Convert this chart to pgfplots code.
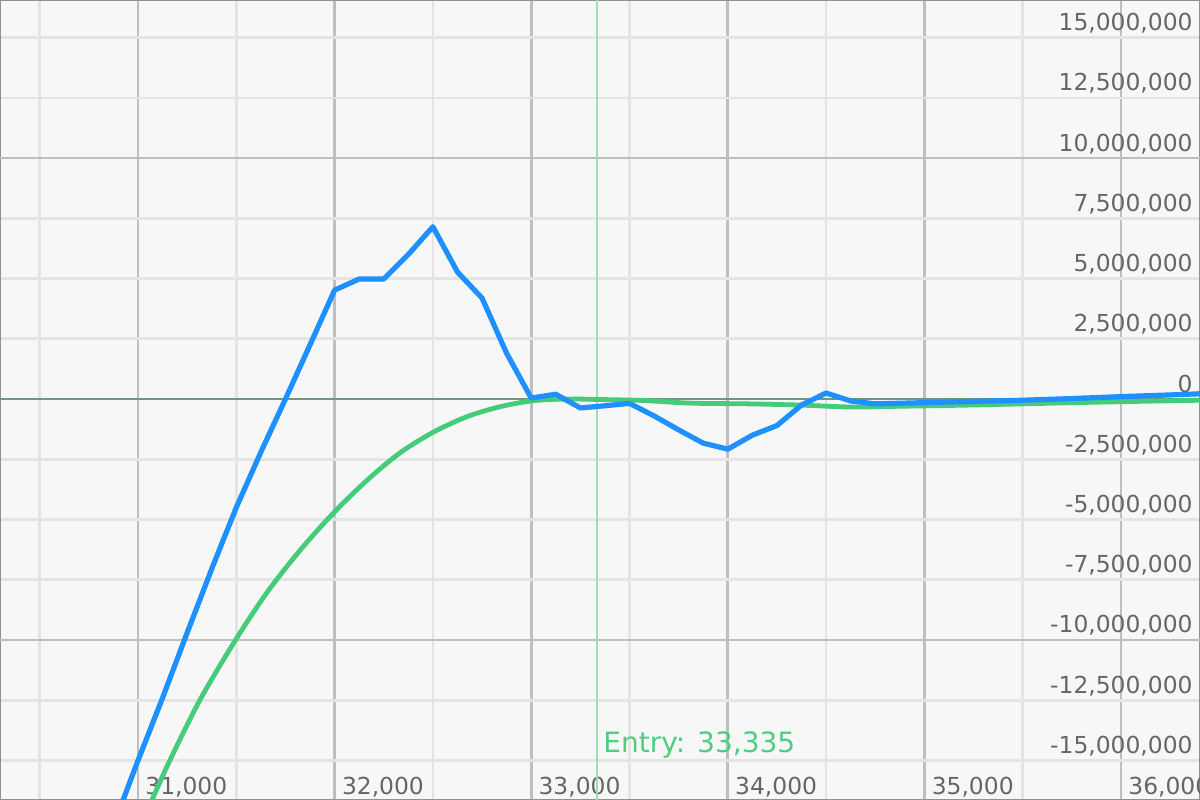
\documentclass[border=0pt]{standalone}
\usepackage{fontspec}
\setmainfont{DejaVu Sans}
\usepackage{pgfplots}
\pgfplotsset{compat=1.18}
\definecolor{bgc}{RGB}{247,247,247}
\definecolor{minorg}{RGB}{228,228,228}
\definecolor{majorg}{RGB}{190,190,190}
\definecolor{framec}{RGB}{145,145,145}
\definecolor{labc}{RGB}{102,102,102}
\definecolor{blueline}{RGB}{30,144,255}
\definecolor{greenline}{RGB}{68,204,122}
\definecolor{entryline}{RGB}{150,226,176}
\definecolor{entrytext}{RGB}{78,206,130}
\definecolor{zeroc}{RGB}{105,155,125}
\begin{document}
\begin{tikzpicture}
\begin{axis}[
  width=600bp, height=400bp, scale only axis,
  xmin=30298, xmax=36402,
  ymin=-16640000, ymax=16560000,
  axis background/.style={fill=bgc},
  axis line style={draw=framec, line width=1.2bp},
  xtick={30000,31000,...,37000},
  minor x tick num=1,
  ytick={-17500000,-15000000,-12500000,-10000000,-7500000,-5000000,-2500000,0,2500000,5000000,7500000,10000000,12500000,15000000,17500000},
  extra y ticks={-10000000,10000000},
  extra y tick labels={},
  extra y tick style={major y grid style={draw=majorg, line width=1.4bp}},
  grid=both,
  major x grid style={draw=majorg, line width=1.4bp},
  major y grid style={draw=minorg, line width=1.3bp},
  minor grid style={draw=minorg, line width=1.3bp},
  major tick length=0pt, minor tick length=0pt,
  scaled ticks=false,
  /pgf/number format/.cd, fixed, precision=0, 1000 sep={,}, assume math mode=true,
  /pgfplots/.cd,
  yticklabel pos=right,
  every tick label/.append style={font=\fontsize{11.7bp}{14bp}\selectfont, text=labc},
  xticklabel style={anchor=base west, inner sep=0pt, xshift=3.5bp, yshift=3bp},
  yticklabel style={anchor=base east, inner sep=0pt, xshift=-3.5bp, yshift=3.5bp},
  clip=true,
]
% zero line
\addplot[draw=zeroc, line width=1.2bp, forget plot] coordinates {(30000,0) (37000,0)};
% entry line
\addplot[draw=entryline, line width=1.1bp, forget plot] coordinates {(33335,-17000000) (33335,17000000)};
\node[anchor=base west, inner sep=0pt, text=entrytext, font=\fontsize{14bp}{16bp}\selectfont] at (axis cs:33335,-14650000) [xshift=3bp] {Entry: 33,335};
% green curve
\addplot[draw=greenline, line width=2.4bp, smooth, tension=0.5] coordinates {
(31000,-17970000) (31071,-16640000) (31163,-14980000) (31315,-12490000) (31493,-10040000)
(31656,-8030000) (31824,-6280000) (31992,-4750000) (32165,-3370000) (32333,-2230000)
(32501,-1380000) (32674,-730000) (32841,-320000) (33009,-70000) (33182,0)
(33350,-20000) (33569,-60000) (33808,-170000) (34100,-200000) (34367,-250000)
(34622,-330000) (34876,-300000) (35232,-250000) (35766,-150000) (36071,-100000) (36402,-50000)
};
% blue line
\addplot[draw=blueline, line width=2.6bp, line join=round] coordinates {
(30875,-17700000) (31000,-15000000) (31125,-12400000) (31250,-9700000) (31375,-7050000)
(31500,-4500000) (31625,-2200000) (31750,0) (31875,2250000) (32000,4520000)
(32125,4980000) (32250,4980000) (32375,6000000) (32500,7150000) (32625,5270000)
(32750,4190000) (32875,1900000) (33000,40000) (33125,200000) (33250,-370000)
(33375,-280000) (33500,-180000) (33625,-700000) (33750,-1280000) (33875,-1830000)
(34000,-2080000) (34125,-1500000) (34250,-1100000) (34375,-250000) (34500,250000)
(34625,-80000) (34750,-200000) (35000,-150000) (35250,-100000) (35500,-50000)
(35750,20000) (36000,100000) (36250,170000) (36500,250000)
};
\end{axis}
\pgfresetboundingbox
\path (current axis.south west) rectangle (current axis.north east);
\end{tikzpicture}
\end{document}
